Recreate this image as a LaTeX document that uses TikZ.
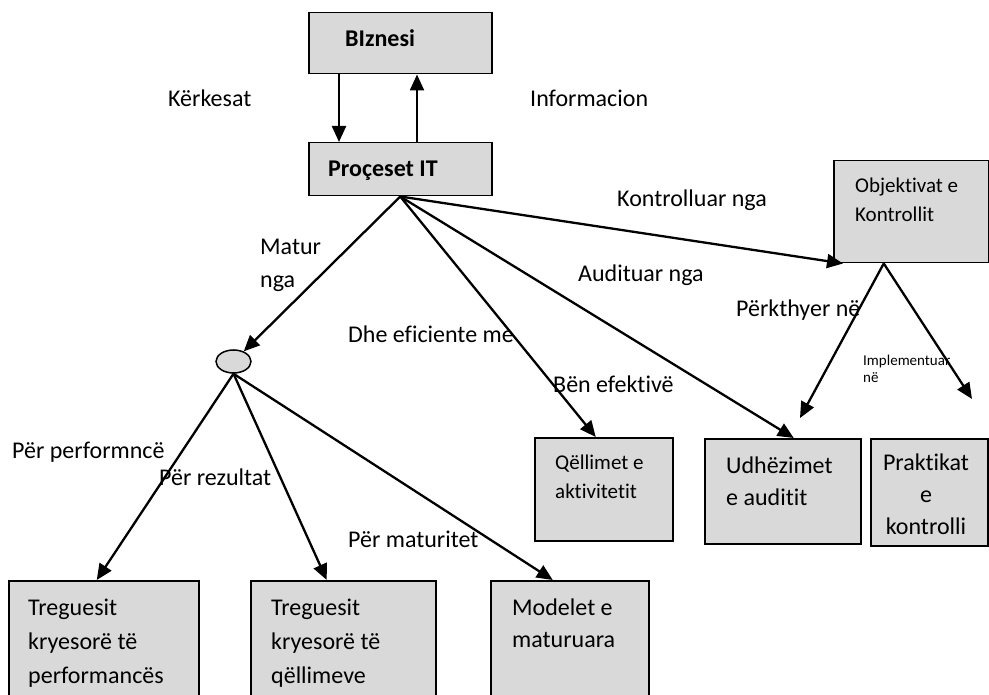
\documentclass[tikz,border=0pt]{standalone}
\usepackage{fontspec}
\setmainfont{Carlito}[Ligatures={NoCommon}]
\usetikzlibrary{arrows.meta,shapes.geometric}
\definecolor{boxgray}{HTML}{D9D9D9}
\tikzset{
  box/.style={draw=black, fill=boxgray, line width=1.5pt, rectangle,
    anchor=north west, inner sep=0pt},
  lbl/.style={anchor=base west, inner sep=0pt, font=\fontsize{24}{34}\selectfont},
  lblc/.style={lbl, anchor=base},
  midtxt/.style={lbl, font=\fontsize{21}{29}\selectfont},
  smalltxt/.style={lbl, font=\fontsize{15}{20}\selectfont},
  arr/.style={line width=2.3pt, -{Triangle[length=16pt,width=14pt]}},
}
\begin{document}
\begin{tikzpicture}[x=1pt,y=-1pt]
\useasboundingbox (0,0) rectangle (989,695);
\clip (0,0) rectangle (989,695);

% boxes
\node[box, minimum width=183pt, minimum height=61pt]  (biz)  at (308,12)  {};
\node[box, minimum width=183pt, minimum height=53pt]  (proc) at (308,142) {};
\node[box, minimum width=155pt, minimum height=102pt] (obj)  at (833,160) {};
\node[box, minimum width=138pt, minimum height=103pt] (qel)  at (534,437) {};
\node[box, minimum width=156pt, minimum height=105pt] (udh)  at (704,438) {};
\node[box, minimum width=117pt, minimum height=107pt] (prak) at (870,438) {};
\node[box, minimum width=190pt, minimum height=130pt] (b1)   at (8,580)   {};
\node[box, minimum width=185pt, minimum height=130pt] (b2)   at (250,580) {};
\node[box, minimum width=158pt, minimum height=130pt] (b3)   at (490,580) {};
\node[ellipse, draw=black, fill=boxgray, line width=1.5pt, inner sep=0pt,
      minimum width=35pt, minimum height=23pt] (ell) at (233.5,361.5) {};

% free arrow ends
\coordinate (udhtip) at (800,418);
\coordinate (praktip) at (972,399);

% connectors
\draw[arr] ([xshift=31pt]biz.south west) -- ([xshift=31pt]proc.north west);
\draw[arr] ([xshift=109pt]proc.north west) -- ([xshift=109pt]biz.south west);
\draw[arr] (proc.south) -- (ell);
\draw[arr] (proc.south) -- ([xshift=-8pt]qel.north);
\draw[arr] (proc.south) -- ([xshift=11pt]udh.north);
\draw[arr] (proc.south) -- ([xshift=10pt]obj.south west);
\draw[arr] ([xshift=-27.5pt]obj.south) -- (udhtip);
\draw[arr] ([xshift=-27.5pt]obj.south) -- (praktip);
\draw[arr] (ell.south) -- ([xshift=-7pt]b1.north);
\draw[arr] (ell.south) -- ([xshift=-16.5pt]b2.north);
\draw[arr] (ell.south) -- ([xshift=-17pt]b3.north);

% box texts
\node[lbl, font=\fontsize{24}{34}\bfseries] (tbiz) at (345,47) {BIznesi};
\node[lbl, font=\fontsize{24}{34}\bfseries] (tproc) at (328,177) {Proçeset IT};
\node[midtxt] (tobj1) at (855,193) {Objektivat e};
\node[midtxt] (tobj2) at (855,222) {Kontrollit};
\node[midtxt] (tqel1) at (555,469) {Qëllimet e};
\node[midtxt] (tqel2) at (555,498) {aktivitetit};
\node[lbl] (tudh1) at (726,473) {Udhëzimet};
\node[lbl] (tudh2) at (726,505) {e auditit};
\node[lblc] (tprak1) at (926,470) {Praktikat};
\node[lblc] (tprak2) at (926,502) {e};
\node[lblc] (tprak3) at (926,534) {kontrolli};
\node[lbl] (tb11) at (28,615) {Treguesit};
\node[lbl] (tb12) at (28,649) {kryesorë të};
\node[lbl] (tb13) at (28,683) {performancës};
\node[lbl] (tb21) at (271,615) {Treguesit};
\node[lbl] (tb22) at (271,649) {kryesorë të};
\node[lbl] (tb23) at (271,683) {qëllimeve};
\node[lbl] (tb31) at (512,615) {Modelet e};
\node[lbl] (tb32) at (512,647) {maturuara};

% connector labels
\node[lbl] (lker) at (168,107) {Kërkesat};
\node[lbl] (linf) at (530,107) {Informacion};
\node[lbl] (lkon) at (617,207) {Kontrolluar nga};
\node[lbl] (laud) at (578,282) {Audituar nga};
\node[lbl] (lmat1) at (260,255) {Matur};
\node[lbl] (lmat2) at (260,288) {nga};
\node[lbl] (ldhe) at (348,342) {Dhe eficiente me};
\node[lbl] (lben) at (553,392) {Bën efektivë};
\node[lbl] (lper) at (736,317) {Përkthyer në};
\node[smalltxt] (limp1) at (863,366) {Implementuar};
\node[smalltxt] (limp2) at (863,383) {në};
\node[lbl] (lpp) at (12,458) {Për performncë};
\node[lbl] (lpr) at (159,485) {Për rezultat};
\node[lbl] (lpm) at (348,547) {Për maturitet};
\end{tikzpicture}
\end{document}
